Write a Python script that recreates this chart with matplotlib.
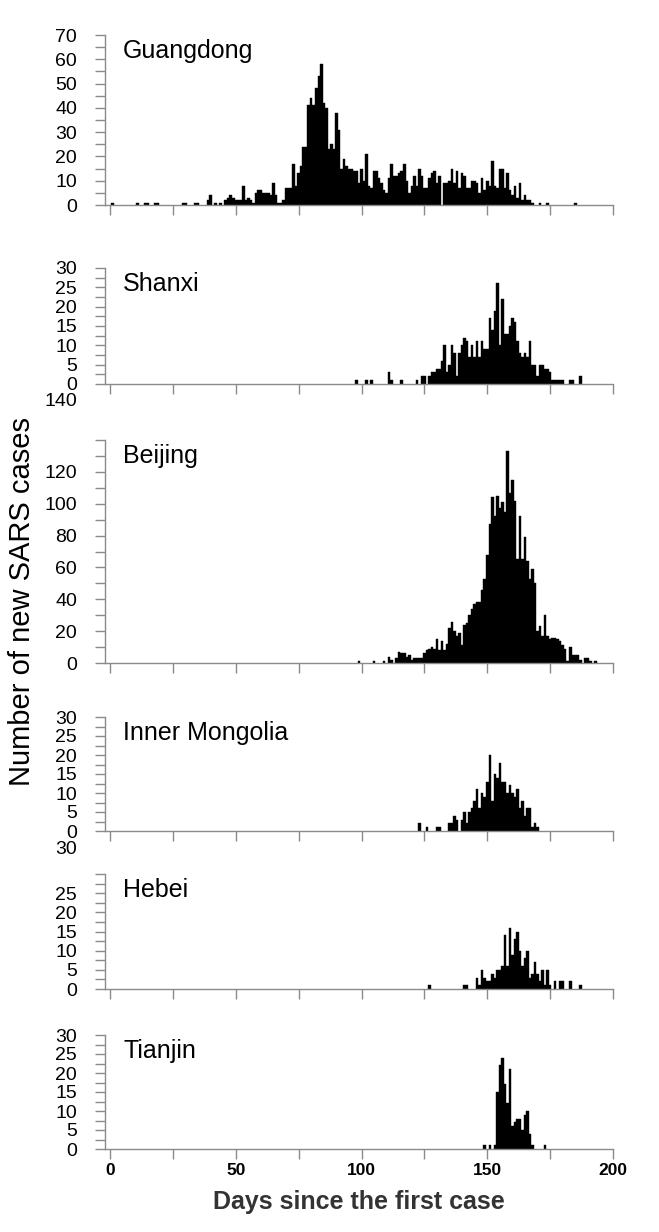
import numpy as np
import matplotlib
matplotlib.use("Agg")
import matplotlib.pyplot as plt
from matplotlib.ticker import MultipleLocator

plt.rcParams['font.family'] = ['Liberation Sans', 'DejaVu Sans']

# daily new SARS cases; each list starts at the given day
guangdong_start = 0
guangdong_counts = [
    0, 1, 0, 0, 0, 0, 0, 0, 0, 0,
    0, 1, 0, 0, 1, 1, 0, 0, 1, 1,
    0, 0, 0, 0, 0, 0, 0, 0, 0, 1,
    1, 0, 0, 0, 1, 1, 0, 0, 0, 2,
    4, 0, 1, 0, 1, 0, 2, 3, 4, 3,
    2, 2, 2, 8, 2, 3, 2, 1, 5, 6,
    6, 5, 5, 5, 4, 9, 4, 1, 1, 2,
    7, 7, 7, 17, 8, 13, 16, 24, 24, 41,
    44, 41, 48, 53, 58, 42, 40, 23, 25, 23,
    38, 31, 15, 19, 16, 15, 15, 14, 14, 9,
    15, 10, 21, 8, 7, 14, 14, 11, 9, 6,
    5, 11, 17, 12, 12, 13, 14, 17, 10, 5,
    8, 12, 8, 15, 12, 7, 7, 11, 13, 14,
    9, 12, 0, 9, 9, 10, 15, 9, 14, 7,
    13, 12, 7, 7, 10, 10, 9, 5, 11, 6,
    10, 8, 18, 8, 7, 15, 15, 7, 13, 6,
    4, 8, 3, 9, 2, 4, 2, 2, 1, 0,
    0, 1, 0, 0, 1, 0, 0, 0, 0, 0,
    0, 0, 0, 0, 0, 1,
]

shanxi_start = 98
shanxi_counts = [
    1, 0, 0, 0, 1, 0, 1, 0, 0, 0,
    0, 0, 0, 3, 1, 0, 0, 0, 1, 0,
    0, 0, 0, 0, 1, 0, 2, 2, 0, 2,
    3, 3, 4, 4, 6, 10, 3, 5, 10, 8,
    2, 8, 10, 12, 11, 7, 10, 7, 11, 7,
    11, 9, 9, 17, 14, 19, 26, 10, 22, 13,
    13, 15, 17, 16, 11, 8, 7, 8, 7, 11,
    5, 5, 2, 5, 5, 4, 4, 3, 1, 1,
    1, 1, 1, 0, 0, 1, 1, 0, 0, 2,
]

beijing_start = 99
beijing_counts = [
    1, 0, 0, 0, 0, 0, 1, 0, 0, 0,
    1, 0, 4, 2, 0, 3, 7, 6, 6, 4,
    5, 2, 3, 3, 3, 3, 6, 8, 9, 10,
    9, 15, 8, 14, 8, 12, 22, 26, 20, 17,
    19, 11, 24, 25, 30, 34, 37, 38, 38, 46,
    53, 68, 87, 104, 92, 105, 97, 101, 95, 133,
    107, 115, 102, 65, 92, 65, 79, 64, 53, 59,
    50, 20, 23, 17, 30, 17, 15, 16, 16, 15,
    14, 11, 9, 1, 10, 5, 5, 5, 2, 0,
    3, 3, 1, 0, 1,
]

inner_mongolia_start = 123
inner_mongolia_counts = [
    2, 0, 0, 1, 0, 0, 0, 1, 1, 0,
    0, 0, 2, 2, 4, 3, 0, 3, 5, 2,
    5, 6, 8, 11, 6, 10, 9, 13, 20, 8,
    15, 14, 18, 13, 13, 10, 12, 10, 9, 11,
    6, 8, 4, 6, 6, 1, 2, 1,
]

hebei_start = 127
hebei_counts = [
    1, 0, 0, 0, 0, 0, 0, 0, 0, 0,
    0, 0, 0, 0, 1, 1, 0, 0, 0, 3,
    1, 5, 3, 2, 2, 4, 3, 5, 5, 6,
    14, 6, 16, 9, 13, 15, 10, 6, 8, 10,
    3, 4, 7, 4, 2, 5, 1, 5, 1, 0,
    2, 0, 2, 2, 0, 0, 2, 0, 0, 0, 1,
]

tianjin_start = 149
tianjin_counts = [
    1, 0, 1, 0, 1, 15, 22, 24, 17, 12,
    21, 6, 7, 8, 8, 5, 9, 10, 4, 1,
    0, 0, 0, 0, 1,
]

names = ["Guangdong", "Shanxi", "Beijing", "Inner Mongolia", "Hebei", "Tianjin"]
starts = [guangdong_start, shanxi_start, beijing_start,
          inner_mongolia_start, hebei_start, tianjin_start]
series = [guangdong_counts, shanxi_counts, beijing_counts,
          inner_mongolia_counts, hebei_counts, tianjin_counts]
y_max = [70, 30, 140, 30, 30, 30]
y_step = [10, 5, 20, 5, 5, 5]
# top labels that sit above their axis in the original figure
moved_top_label = [None, None, "140", None, "30", None]

# layout in pixels
W, H = 659, 1232
LEFT, RIGHT = 105, 613
PANEL_PX = [(35, 205), (268, 384), (440, 663), (717, 831), (874, 989), (1035, 1149)]
MOVED_LABEL_Y = [None, None, 402, None, 849, None]
GRAY = "#8a8a8a"


def main():
    fig = plt.figure(figsize=(W / 100, H / 100), dpi=100)

    for i, name in enumerate(names):
        top, bot = PANEL_PX[i]
        ax = fig.add_axes([LEFT / W, 1 - bot / H, (RIGHT - LEFT) / W, (bot - top) / H])

        counts = np.array(series[i])
        days = starts[i] + np.arange(len(counts))
        keep = counts > 0
        ax.bar(days[keep], counts[keep], width=1.0, color="black",
               edgecolor="black", linewidth=0.3)

        ax.set_xlim(-2, 200)
        ax.set_ylim(0, y_max[i])

        for s in ["top", "right"]:
            ax.spines[s].set_visible(False)
        for s in ["left", "bottom"]:
            ax.spines[s].set_color(GRAY)
            ax.spines[s].set_linewidth(1.0)

        ax.xaxis.set_major_locator(MultipleLocator(50))
        ax.xaxis.set_minor_locator(MultipleLocator(25))
        ticks = list(range(0, y_max[i] + 1, y_step[i]))
        ax.set_yticks(ticks)
        labels = [str(t) for t in ticks]
        if moved_top_label[i] is not None:
            labels[-1] = ""
        ax.set_yticklabels(labels)
        ax.yaxis.set_minor_locator(MultipleLocator(y_step[i] / 2))

        ax.tick_params(which="both", direction="out", color=GRAY, width=1.0, length=7)
        ax.tick_params(axis="y", labelsize=14, pad=13)
        if i == len(names) - 1:
            ax.tick_params(axis="x", labelsize=12.5, pad=3)
            for lab in ax.get_xticklabels():
                lab.set_fontweight("bold")
        else:
            ax.tick_params(axis="x", labelbottom=False)

        ax.annotate(name, xy=(0, 1), xycoords="axes fraction",
                    xytext=(13, -16.5), textcoords="offset points",
                    ha="left", va="baseline", fontsize=18)

        if moved_top_label[i] is not None:
            fig.text(77 / W, 1 - MOVED_LABEL_Y[i] / H, moved_top_label[i],
                     ha="right", va="center", fontsize=14)

    fig.text(22 / W, 1 - 601 / H, "Number of new SARS cases", rotation=90,
             ha="center", va="center", fontsize=21)
    fig.text(359 / W, 1 - 1202 / H, "Days since the first case",
             ha="center", va="center", fontsize=18, fontweight="bold", color="#333333")

    fig.savefig("out.png", dpi=100)


if __name__ == "__main__":
    main()
